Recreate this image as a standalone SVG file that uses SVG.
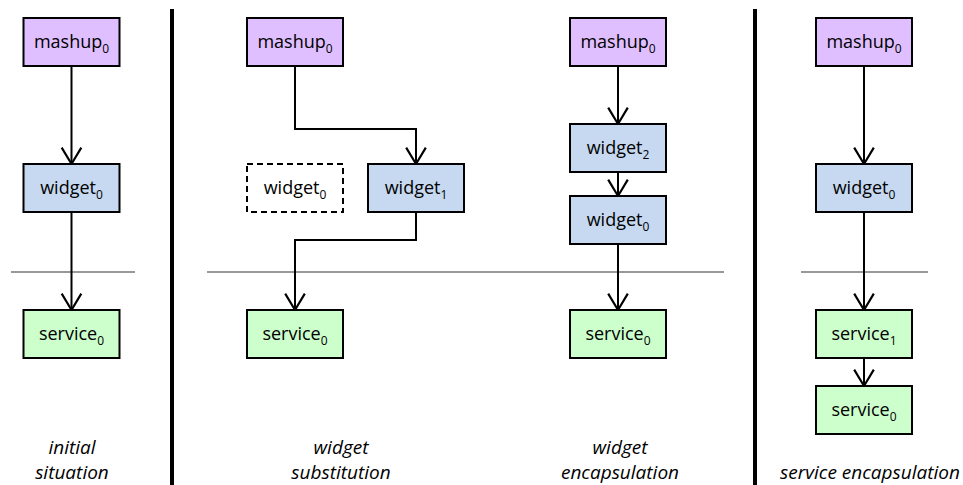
<svg xmlns="http://www.w3.org/2000/svg" width="963" height="485" viewBox="0 0 963 485">
<defs>
<marker id="arr" markerUnits="userSpaceOnUse" markerWidth="20" markerHeight="24" viewBox="-16 -11 18 22" refX="0" refY="0" orient="auto" overflow="visible">
<path d="M-15,-9 L0,0 L-15,9" fill="none" stroke="#000" stroke-width="2"/>
</marker>
<style>
rect{stroke:#000;stroke-width:2}
.m{fill:#dfbfff}
.w{fill:#c6d9f1}
.s{fill:#ccffcc}
.d{fill:#fff;stroke-dasharray:6 4}
text{font-family:"Open Sans","Liberation Sans",sans-serif;font-size:18px;fill:#000;text-anchor:middle}
.sub{font-size:12px}
.lbl{font-style:italic;font-size:19px}
.c{fill:none;stroke:#000;stroke-width:2}
.sep{stroke:#000;stroke-width:4}
.tier{stroke:#999;stroke-width:2}
</style>
</defs>

<g id="separators">
<line class="sep" x1="172" y1="9" x2="172" y2="485"/>
<line class="sep" x1="755" y1="9" x2="755" y2="485"/>
<line class="tier" x1="11" y1="272" x2="135" y2="272"/>
<line class="tier" x1="207" y1="272" x2="724" y2="272"/>
<line class="tier" x1="801" y1="272" x2="928" y2="272"/>
</g>

<g id="connectors">
<path class="c" d="M71.5,66 V164" marker-end="url(#arr)"/>
<path class="c" d="M71.5,212 V310" marker-end="url(#arr)"/>
<path class="c" d="M295,66 V129 H416 V164" marker-end="url(#arr)"/>
<path class="c" d="M416,212 V240 H295 V310" marker-end="url(#arr)"/>
<path class="c" d="M618,66 V124" marker-end="url(#arr)"/>
<path class="c" d="M618,172 V196" marker-end="url(#arr)"/>
<path class="c" d="M618,244 V310" marker-end="url(#arr)"/>
<path class="c" d="M864,66 V164" marker-end="url(#arr)"/>
<path class="c" d="M864,212 V310" marker-end="url(#arr)"/>
<path class="c" d="M864,358 V386" marker-end="url(#arr)"/>
</g>

<g id="p1-mashup0"><rect class="m" x="23.5" y="18" width="96" height="48"/><text x="71.5" y="48">mashup<tspan class="sub" dy="5">0</tspan></text></g>
<g id="p1-widget0"><rect class="w" x="23.5" y="164" width="96" height="48"/><text x="71.5" y="194">widget<tspan class="sub" dy="5">0</tspan></text></g>
<g id="p1-service0"><rect class="s" x="23.5" y="310" width="96" height="48"/><text x="71.5" y="340">service<tspan class="sub" dy="5">0</tspan></text></g>

<g id="p2-mashup0"><rect class="m" x="247" y="18" width="96" height="48"/><text x="295" y="48">mashup<tspan class="sub" dy="5">0</tspan></text></g>
<g id="p2-widget0"><rect class="d" x="247" y="164" width="96" height="48"/><text x="295" y="194">widget<tspan class="sub" dy="5">0</tspan></text></g>
<g id="p2-widget1"><rect class="w" x="368" y="164" width="96" height="48"/><text x="416" y="194">widget<tspan class="sub" dy="5">1</tspan></text></g>
<g id="p2-service0"><rect class="s" x="247" y="310" width="96" height="48"/><text x="295" y="340">service<tspan class="sub" dy="5">0</tspan></text></g>

<g id="p3-mashup0"><rect class="m" x="570" y="18" width="96" height="48"/><text x="618" y="48">mashup<tspan class="sub" dy="5">0</tspan></text></g>
<g id="p3-widget2"><rect class="w" x="570" y="124" width="96" height="48"/><text x="618" y="154">widget<tspan class="sub" dy="5">2</tspan></text></g>
<g id="p3-widget0"><rect class="w" x="570" y="196" width="96" height="48"/><text x="618" y="226">widget<tspan class="sub" dy="5">0</tspan></text></g>
<g id="p3-service0"><rect class="s" x="570" y="310" width="96" height="48"/><text x="618" y="340">service<tspan class="sub" dy="5">0</tspan></text></g>

<g id="p4-mashup0"><rect class="m" x="816" y="18" width="96" height="48"/><text x="864" y="48">mashup<tspan class="sub" dy="5">0</tspan></text></g>
<g id="p4-widget0"><rect class="w" x="816" y="164" width="96" height="48"/><text x="864" y="194">widget<tspan class="sub" dy="5">0</tspan></text></g>
<g id="p4-service1"><rect class="s" x="816" y="310" width="96" height="48"/><text x="864" y="340">service<tspan class="sub" dy="5">1</tspan></text></g>
<g id="p4-service0"><rect class="s" x="816" y="386" width="96" height="48"/><text x="864" y="416">service<tspan class="sub" dy="5">0</tspan></text></g>

<g id="labels">
<text class="lbl" x="72" y="454">initial</text>
<text class="lbl" x="72" y="479">situation</text>
<text class="lbl" x="341" y="454">widget</text>
<text class="lbl" x="341" y="479">substitution</text>
<text class="lbl" x="620" y="454">widget</text>
<text class="lbl" x="620" y="479">encapsulation</text>
<text class="lbl" x="870" y="479">service encapsulation</text>
</g>
</svg>
